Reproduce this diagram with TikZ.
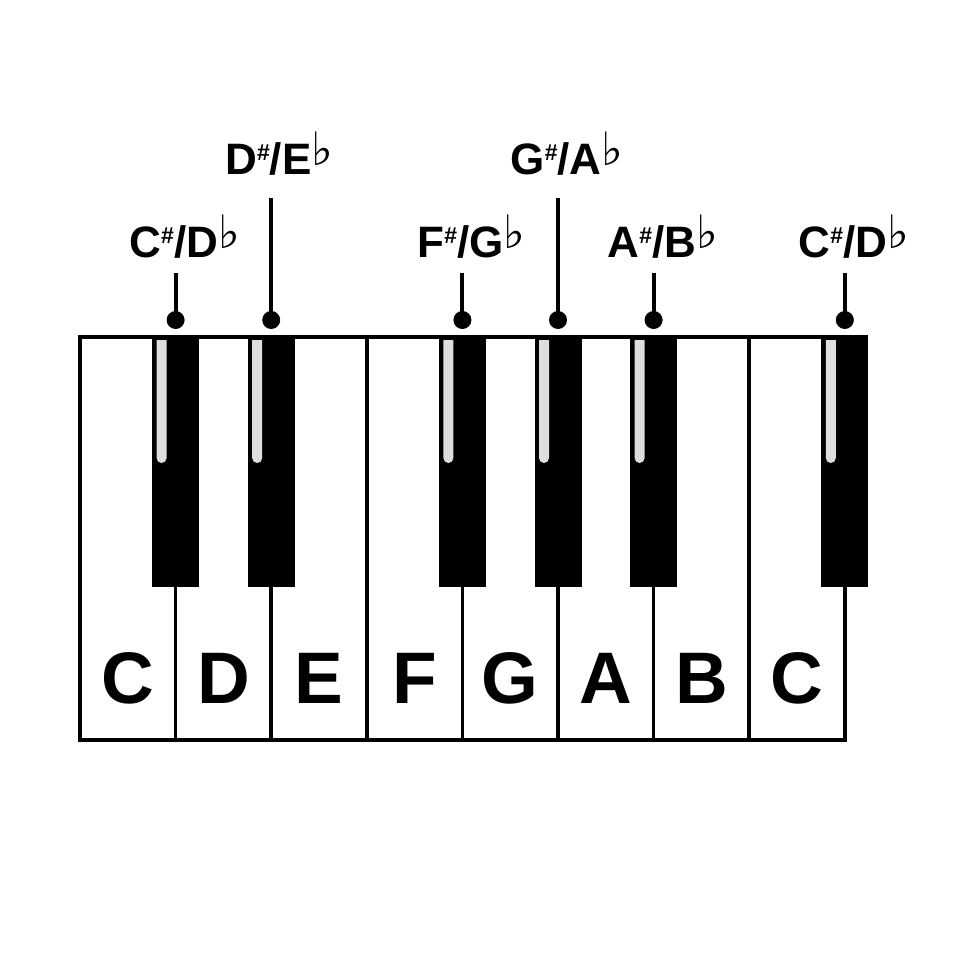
\documentclass[tikz,border=0pt]{standalone}
\usepackage{fontspec}
\setmainfont{Liberation Sans}
\newfontfamily\symfam{DejaVu Sans}
\newcommand\shp{\raisebox{14pt}{\fontsize{23}{23}\selectfont\#}}
\newcommand\flt{\raisebox{9pt}{\symfam\mdseries\fontsize{46}{46}\selectfont ♭}}
\tikzset{
  whitekey/.style={draw=black, line width=3.5pt, fill=white},
  blackkey/.style={fill=black},
  shine/.style={fill=black!13},
  notelabel/.style={font=\bfseries\fontsize{44}{44}\selectfont, anchor=base, inner sep=0pt},
  keyletter/.style={font=\bfseries\fontsize{73}{73}\selectfont, anchor=base, inner sep=0pt},
  pin/.style={line width=4pt},
  pindot/.style={circle, fill=black, minimum size=18pt, inner sep=0pt},
}
\begin{document}
\begin{tikzpicture}[x=1pt,y=-1pt]
\useasboundingbox[fill=white] (0,0) rectangle (960,960);
% white keys
\foreach \i/\n in {0/C,1/D,2/E,3/F,4/G,5/A,6/B,7/C}{
  \pgfmathsetmacro\xl{80+\i*95.6}
  \pgfmathsetmacro\xr{80+(\i+1)*95.6}
  \pgfmathsetmacro\xc{80+(\i+0.5)*95.6}
  \draw[whitekey] (\xl,337) rectangle (\xr,740);
  \node[keyletter] (w\i) at (\xc,703) {\n};
}
% black keys
\foreach \k/\b in {1/1,2/2,3/4,4/5,5/6,6/8}{
  \pgfmathsetmacro\xc{80+\b*95.6}
  \fill[blackkey] (\xc-23.5,335.25) rectangle (\xc+23.5,587);
  \fill[shine] (\xc-19,340) -- (\xc-19,458) arc[start angle=180,end angle=0,radius=5] -- (\xc-9,340) -- cycle;
  \node[pindot] (d\k) at (\xc,320) {};
}
% labels
\node[notelabel] (l1) at (80+1*95.6+9,257) {C\shp/D\flt};
\node[notelabel] (l2) at (80+2*95.6+8,175) {D\shp/E\flt};
\node[notelabel] (l3) at (80+4*95.6+9,257) {F\shp/G\flt};
\node[notelabel] (l4) at (80+5*95.6+9,175) {G\shp/A\flt};
\node[notelabel] (l5) at (80+6*95.6+9,257) {A\shp/B\flt};
\node[notelabel] (l6) at (80+8*95.6+9,257) {C\shp/D\flt};
% pins
\coordinate (t1) at (80+1*95.6,273);
\coordinate (t2) at (80+2*95.6,198);
\coordinate (t3) at (80+4*95.6,273);
\coordinate (t4) at (80+5*95.6,198);
\coordinate (t5) at (80+6*95.6,273);
\coordinate (t6) at (80+8*95.6,273);
\foreach \k in {1,...,6}{
  \draw[pin] (t\k) -- (d\k.center);
}
\end{tikzpicture}
\end{document}
